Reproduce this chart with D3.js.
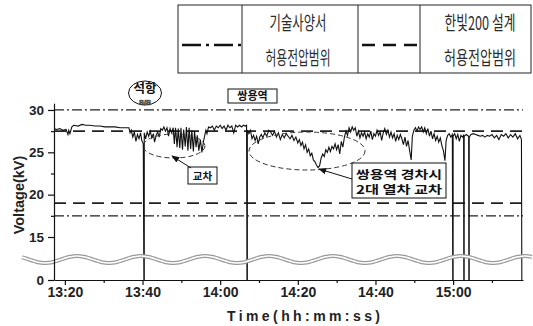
<!DOCTYPE html>
<html>
<head>
<meta charset="utf-8">
<script src="https://cdn.jsdelivr.net/npm/d3@7"></script>
<style>
  body { margin: 0; background: #fff; }
  svg { display: block; }
</style>
</head>
<body>
<svg id="chart" width="533" height="326"></svg>
<script>
// Catenary voltage record: [minutes after 13:00, kV]; 0 marks a supply cut (neutral section)
const trace = [
  [17.2,27.8],[17.9,27.7],[18.7,27.8],[19.5,27.6],[20.3,27.7],[20.8,27.1],[21.0,27.6],[21.3,27.2],
  [21.8,28.0],[22.3,28.2],[23.4,28.1],[24.4,28.3],[25.4,28.2],[26.4,28.2],[27.7,28.1],[29.0,28.1],
  [30.3,28.0],[31.6,28.0],[32.9,28.0],[34.2,27.9],[35.5,27.9],[36.5,27.9],[36.8,27.3],[37.1,27.6],
  [37.5,26.8],[37.9,27.4],[38.3,26.3],[38.7,27.1],[39.1,26.6],[39.5,27.3],[39.8,26.4],[40.2,26.0],
  [40.35,0],[40.45,0],
  [40.45,27.3],[40.8,26.6],[41.2,27.4],[41.6,26.9],[42.0,27.5],[42.4,26.7],[42.8,27.2],[43.1,26.2],
  [43.5,27.0],[43.9,27.4],[44.3,26.8],[44.7,27.8],[45.1,27.6],[45.5,28.0],[45.9,27.5],[46.3,27.9],
  [46.7,26.9],[47.1,27.8],[47.5,27.3],[47.9,27.9],[48.2,26.0],[48.5,27.9],[48.9,25.6],[49.2,27.8],
  [49.6,25.5],[49.9,27.9],[50.3,25.3],[50.6,27.7],[51.0,25.7],[51.3,28.0],[51.7,25.2],[52.0,27.9],
  [52.4,25.4],[52.7,27.6],[53.1,25.1],[53.4,27.5],[53.8,25.6],[54.1,27.0],[54.5,25.2],[54.9,26.5],
  [55.3,25.0],[55.7,26.3],[56.0,26.9],[56.3,27.6],[56.6,27.2],[57.0,28.0],[57.5,27.9],[58.0,28.1],
  [58.5,27.6],[59.0,28.1],[59.5,27.9],[60.0,28.2],[60.5,27.8],[61.0,28.1],[61.5,27.6],[62.0,28.2],
  [62.5,27.9],[63.0,28.1],[63.5,27.3],[64.0,28.2],[64.5,28.0],[65.0,28.2],[65.5,28.0],[66.0,28.2],
  [66.5,28.1],[66.8,28.2],
  [66.9,0],[67.0,0],
  [67.0,27.6],[67.4,27.2],[67.8,27.6],[68.2,26.6],[68.6,27.0],[69.0,26.4],[69.4,26.9],[69.8,26.0],
  [70.2,26.8],[70.6,27.1],[71.0,26.7],[71.5,27.3],[72.0,26.9],[72.5,27.6],[73.0,27.4],[73.5,27.0],
  [74.0,27.5],[74.5,26.8],[75.0,27.3],[75.5,26.5],[76.0,27.1],[76.5,26.7],[77.0,27.2],[77.5,26.9],
  [78.0,26.6],[78.5,27.0],[79.0,26.4],[79.5,26.8],[80.0,26.1],[80.4,26.5],[80.8,25.8],[81.2,26.2],
  [81.6,25.4],[82.0,25.9],[82.4,25.0],[82.8,25.4],[83.2,24.6],[83.6,24.9],[84.0,24.1],[84.4,23.9],
  [84.8,23.5],[85.2,23.2],[85.6,23.4],[86.0,24.3],[86.4,24.8],[86.8,24.5],[87.2,25.3],[87.6,25.0],
  [88.0,25.6],[88.4,25.1],[88.8,25.7],[89.2,25.4],[89.6,26.0],[90.0,25.3],[90.4,25.9],[90.8,24.8],
  [91.2,26.3],[91.6,25.6],[92.0,26.8],[92.4,27.5],[92.8,27.0],[93.2,27.9],[93.6,27.4],[94.0,28.0],
  [94.4,27.6],[94.8,27.9],[95.2,26.9],[95.6,27.5],[96.0,26.7],[96.4,27.3],[96.8,26.9],[97.2,27.4],
  [97.6,26.6],[98.0,27.2],[98.4,26.8],[98.8,27.5],[99.2,26.5],[99.6,27.2],[100.0,26.9],[100.4,27.6],
  [100.8,27.0],[101.2,27.4],[101.6,26.4],[102.0,27.3],[102.4,27.8],[102.8,27.1],[103.2,27.6],[103.6,26.8],
  [104.0,27.4],[104.4,26.7],[104.8,27.2],[105.2,26.3],[105.6,27.0],[106.0,26.5],[106.4,27.1],[106.8,26.6],
  [107.2,25.9],[107.6,26.8],[108.0,25.7],[108.4,26.4],[108.8,25.2],[109.2,24.1],[109.5,26.9],[109.9,27.6],
  [110.3,27.9],[110.7,27.5],[111.1,28.0],[111.5,27.7],[111.9,28.0],[112.3,27.4],[112.7,27.9],[113.1,27.2],
  [113.5,27.8],[113.9,26.9],[114.3,27.5],[114.7,26.6],[115.1,27.2],[115.5,26.4],[115.9,26.9],[116.3,26.2],
  [116.7,26.7],[117.1,25.8],[117.5,25.2],[117.9,24.0],[118.2,26.4],[118.6,27.0],[119.0,27.2],[119.4,26.8],
  [119.8,27.1],
  [119.9,0],[120.0,0],
  [120.0,26.9],[120.4,27.2],[120.8,26.6],[121.2,27.1],[121.6,26.3],[122.0,27.0],[122.4,26.8],[122.7,27.0],
  [122.75,0],[122.85,0],
  [122.85,26.9],[123.4,27.1],[124.0,26.9],
  [124.05,0],[124.15,0],
  [124.15,26.8],[124.6,27.1],[125.2,27.2],[125.8,27.1],[126.4,27.0],[127.0,26.9],[127.6,27.0],[128.2,26.8],
  [128.8,27.0],[129.4,26.9],[130.0,27.1],[130.6,26.7],[131.2,27.0],[131.8,26.5],[132.4,27.1],[133.0,26.9],
  [133.6,27.2],[134.2,26.7],[134.8,27.1],[135.4,26.8],[136.0,27.2],[136.6,26.6],[137.2,27.0],[137.6,26.5],
  [137.7,0]
];

const specLimits = [30, 17.5];     // 기술사양서 허용전압범위 (dash-dot)
const designLimits = [27.5, 19];   // 한빛200 설계 허용전압범위 (dashed)

const yTicks = [0, 15, 20, 25, 30];
const yMinorTicks = [17.5, 22.5, 27.5];
const xTickLabels = ["13:20", "13:40", "14:00", "14:20", "14:40", "15:00"];
const xMinorLabels = ["13:30", "13:50", "14:10", "14:30", "14:50", "15:10"];

const legendCols = [
  ["기술사양서", "허용전압범위"],
  ["한빛200 설계", "허용전압범위"]
];

const svg = d3.select("#chart");
const parseHM = d3.timeParse("%H:%M");
const base = parseHM("13:00");
const atMin = m => new Date(base.getTime() + m * 60000);

// scales: the y axis is broken between 0 and 15 kV
const x = d3.scaleTime().domain([atMin(17.2), atMin(138)]).range([54, 523]);
const y = d3.scaleLinear().domain([0, 15, 30.8]).range([280, 237, 103.2]);

const axisFont = "'Liberation Sans', Arial, sans-serif";
const krFont = "'Noto Sans CJK KR', sans-serif";

// limit lines
const limits = svg.append("g");
limits.selectAll("line.spec").data(specLimits).join("line")
  .attr("x1", 54).attr("x2", 523)
  .attr("y1", d => y(d)).attr("y2", d => y(d))
  .attr("stroke", "#222").attr("stroke-width", 1.3)
  .attr("stroke-dasharray", "10,3,2,3");
limits.selectAll("line.design").data(designLimits).join("line")
  .attr("x1", 54).attr("x2", 523)
  .attr("y1", d => y(d)).attr("y2", d => y(d))
  .attr("stroke", "#222").attr("stroke-width", 1.8)
  .attr("stroke-dasharray", "12,7");

// voltage trace
const line = d3.line().x(d => x(atMin(d[0]))).y(d => y(d[1]));
svg.append("path").datum(trace)
  .attr("d", line)
  .attr("fill", "none")
  .attr("stroke", "#111")
  .attr("stroke-width", 1.1);

// axis break symbol
const wavePts = [];
for (let px = 22; px <= 533; px += 2) {
  wavePts.push([px, 259.5 - 3.5 * Math.cos(2 * Math.PI * (px - 77) / 64)]);
}
const wave = d3.line().curve(d3.curveBasis);
svg.append("path").attr("d", wave(wavePts))
  .attr("fill", "none").attr("stroke", "#9a9a9a").attr("stroke-width", 4);
svg.append("path").attr("d", wave(wavePts))
  .attr("fill", "none").attr("stroke", "#fff").attr("stroke-width", 1.6);

// axes
const xAxis = svg.append("g").attr("transform", "translate(0,280)")
  .call(d3.axisBottom(x)
    .tickValues(xTickLabels.map(parseHM))
    .tickFormat(d3.timeFormat("%H:%M"))
    .tickSize(5).tickPadding(2).tickSizeOuter(0));
svg.append("g").attr("transform", "translate(0,280)")
  .call(d3.axisBottom(x)
    .tickValues(xMinorLabels.map(parseHM))
    .tickFormat("").tickSize(3).tickSizeOuter(0))
  .call(g => g.select(".domain").remove());

const yAxis = svg.append("g").attr("transform", "translate(54,0)")
  .call(d3.axisLeft(y).tickValues(yTicks).tickSize(6).tickPadding(4).tickSizeOuter(0));
svg.append("g").attr("transform", "translate(54,0)")
  .call(d3.axisLeft(y).tickValues(yMinorTicks).tickFormat("").tickSize(3).tickSizeOuter(0))
  .call(g => g.select(".domain").remove());

svg.selectAll(".tick line, .domain").attr("stroke", "#111").attr("stroke-width", 1.2);
xAxis.selectAll("text").attr("font-family", axisFont).attr("font-weight", "bold")
  .attr("font-size", 14).attr("fill", "#222");
yAxis.selectAll("text").attr("font-family", axisFont).attr("font-weight", "bold")
  .attr("font-size", 13.5).attr("fill", "#222");

// axis titles
svg.append("text").text("Time(hh:mm:ss)")
  .attr("x", 227).attr("y", 321)
  .attr("textLength", 153).attr("lengthAdjust", "spacing")
  .attr("font-family", axisFont).attr("font-weight", "bold").attr("font-size", 14)
  .attr("fill", "#222");
svg.append("text").text("Voltage(kV)")
  .attr("transform", "translate(24,195) rotate(-90)")
  .attr("text-anchor", "middle")
  .attr("font-family", axisFont).attr("font-weight", "bold").attr("font-size", 14.5)
  .attr("fill", "#222");

// legend table
const lg = svg.append("g");
lg.append("rect").attr("x", 178).attr("y", 5).attr("width", 353).attr("height", 68)
  .attr("fill", "none").attr("stroke", "#222").attr("stroke-width", 1);
[242, 358, 420].forEach(cx => {
  lg.append("line").attr("x1", cx).attr("x2", cx).attr("y1", 5).attr("y2", 73)
    .attr("stroke", "#222").attr("stroke-width", 1);
});
lg.append("line").attr("x1", 182).attr("x2", 242).attr("y1", 45).attr("y2", 45)
  .attr("stroke", "#111").attr("stroke-width", 2.5).attr("stroke-dasharray", "19,5,3,5");
lg.append("line").attr("x1", 362).attr("x2", 417).attr("y1", 45).attr("y2", 45)
  .attr("stroke", "#111").attr("stroke-width", 2.5).attr("stroke-dasharray", "13,8");

// condensed legend captions: natural width squeezed horizontally to fit each cell
const colCenters = [298, 480];
const rowBase = [30, 65];
const textWidths = [[57, 65], [71, 72]];
legendCols.forEach((col, i) => {
  col.forEach((label, j) => {
    const t = lg.append("text").text(label)
      .attr("text-anchor", "middle")
      .attr("font-family", krFont).attr("font-weight", 400).attr("font-size", 19)
      .attr("fill", "#2a2a2a");
    const natural = t.node().getComputedTextLength();
    const sx = textWidths[i][j] / natural;
    t.attr("transform", `translate(${colCenters[i]},${rowBase[j]}) scale(${sx},1)`);
  });
});

// annotations
const ann = svg.append("g").attr("font-family", krFont).attr("font-weight", "bold").attr("fill", "#111");

// substation mark
ann.append("ellipse").attr("cx", 145).attr("cy", 93).attr("rx", 16.5).attr("ry", 12)
  .attr("fill", "none").attr("stroke", "#111").attr("stroke-width", 1);
ann.append("text").text("석항").attr("x", 145).attr("y", 93).attr("text-anchor", "middle")
  .attr("font-size", 12.5);
ann.append("text").text("S/S").attr("x", 145).attr("y", 104.5).attr("text-anchor", "middle")
  .attr("font-family", axisFont).attr("font-size", 7.5).attr("fill", "#fff")
  .attr("stroke", "#333").attr("stroke-width", 0.7);

// station label
ann.append("rect").attr("x", 228).attr("y", 89).attr("width", 49).attr("height", 14)
  .attr("fill", "#fff").attr("stroke", "#111").attr("stroke-width", 1);
ann.append("text").text("쌍용역").attr("x", 252.5).attr("y", 100).attr("text-anchor", "middle")
  .attr("font-size", 11);

// crossing regions
svg.append("ellipse").attr("cx", 174).attr("cy", 146).attr("rx", 31).attr("ry", 12)
  .attr("fill", "none").attr("stroke", "#333").attr("stroke-width", 1).attr("stroke-dasharray", "5,3");
svg.append("ellipse").attr("cx", 307).attr("cy", 151).attr("rx", 58).attr("ry", 19)
  .attr("fill", "none").attr("stroke", "#333").attr("stroke-width", 1).attr("stroke-dasharray", "5,3");

const defs = svg.append("defs");
defs.append("marker").attr("id", "head").attr("viewBox", "0 0 10 10")
  .attr("refX", 9).attr("refY", 5).attr("markerWidth", 8).attr("markerHeight", 8)
  .attr("orient", "auto-start-reverse")
  .append("path").attr("d", "M0,1 L10,5 L0,9 Z").attr("fill", "#111");

svg.append("line").attr("x1", 191).attr("y1", 168).attr("x2", 172).attr("y2", 156)
  .attr("stroke", "#111").attr("stroke-width", 1).attr("marker-end", "url(#head)");
ann.append("rect").attr("x", 188).attr("y", 167).attr("width", 29).attr("height", 17)
  .attr("fill", "#fff").attr("stroke", "#111").attr("stroke-width", 1);
ann.append("text").text("교차").attr("x", 202.5).attr("y", 179.5).attr("text-anchor", "middle")
  .attr("font-size", 10.5);

svg.append("line").attr("x1", 352).attr("y1", 179).attr("x2", 319).attr("y2", 169)
  .attr("stroke", "#111").attr("stroke-width", 1).attr("marker-end", "url(#head)");
ann.append("rect").attr("x", 352).attr("y", 163).attr("width", 94).attr("height", 35)
  .attr("fill", "#fff").attr("stroke", "#111").attr("stroke-width", 1);
ann.append("text").text("쌍용역 경차시").attr("x", 356).attr("y", 179)
  .attr("textLength", 86).attr("lengthAdjust", "spacingAndGlyphs").attr("font-size", 11.5);
ann.append("text").text("2대 열차 교차").attr("x", 356).attr("y", 194)
  .attr("textLength", 86).attr("lengthAdjust", "spacingAndGlyphs").attr("font-size", 11.5);
</script>
</body>
</html>
